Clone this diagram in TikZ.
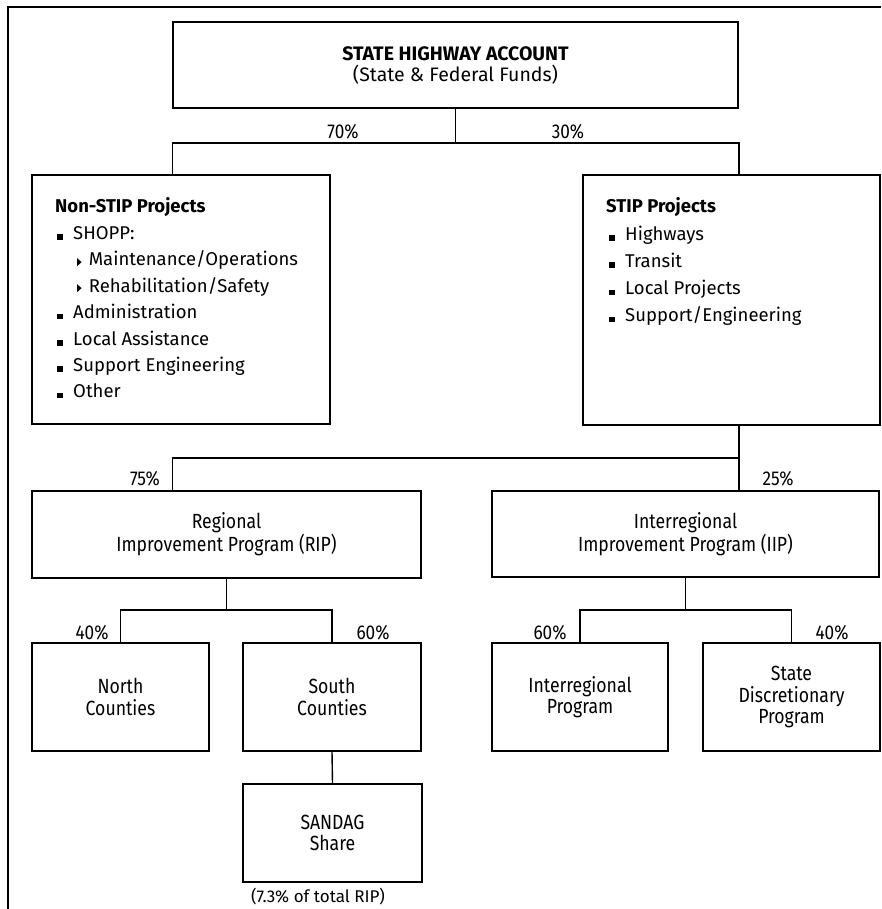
\documentclass[tikz,border=0pt]{standalone}
\usepackage{fontspec}
\setmainfont{Fira Sans}
\newfontfamily\labelfont[FakeStretch=0.86]{Fira Sans}
\newfontfamily\symfont{DejaVu Sans}
\newcommand{\sqbul}{\rule[-0.5pt]{6pt}{5.5pt}\hspace{10pt}}
\newcommand{\tribul}{\raisebox{0.5pt}{\scalebox{0.55}[1]{\symfont\fontsize{11}{11}\selectfont ▶}}\hspace{7pt}}
\tikzset{
  box/.style={draw, line width=1.6pt, inner sep=0pt, align=center,
    font=\labelfont\fontsize{20.5}{21.5}\selectfont},
  link/.style={line width=1.4pt},
  pct/.style={font=\labelfont\fontsize{20}{20}\selectfont},
  item/.style={anchor=base west, inner sep=0pt, font=\fontsize{18.5}{20}\selectfont},
  head/.style={anchor=base west, inner sep=0pt, font=\bfseries\fontsize{18.5}{20}\selectfont},
}

\begin{document}
\begin{tikzpicture}[x=1pt, y=-1pt]
\useasboundingbox (0,0) rectangle (881,909);
\draw[line width=2.6pt] (8,909) -- (8,7) -- (881,7);

% account and its two shares
\node[box, minimum width=565, minimum height=86, font=\fontsize{19.5}{21}\selectfont]
  (sha) at (455.5,65) {\textbf{STATE HIGHWAY ACCOUNT}\\(State \& Federal Funds)};
\node[box, minimum width=298, minimum height=249] (nonstip) at (181,299.5) {};
\node[box, minimum width=297, minimum height=250] (stip) at (731.5,300) {};

\node[head] (nshead) at (55,213) {Non-STIP Projects};
\foreach \txt/\r in {SHOPP:/1, Administration/4, Local Assistance/5, Support Engineering/6, Other/7}
  \node[item] (ns\r) at (57,{213+26.4*\r}) {\sqbul\txt};
\foreach \txt [count=\r from 2] in {Maintenance/Operations, Rehabilitation/Safety}
  \node[item] (ns\r) at (77,{213+26.4*\r}) {\tribul\txt};

\node[head] (sthead) at (606,213) {STIP Projects};
\foreach \txt [count=\r] in {Highways, Transit, Local Projects, Support/Engineering}
  \node[item] (st\r) at (609,{213+27.2*\r}) {\sqbul\txt};

% programs
\node[box, minimum width=389, minimum height=87] (rip) at (226.5,534.5) {Regional\\Improvement Program (RIP)};
\node[box, minimum width=387, minimum height=86] (iip) at (685.5,534) {Interregional\\Improvement Program (IIP)};

\node[box, minimum width=177, minimum height=108] (north) at (120.5,697) {North\\Counties};
\node[box, minimum width=178, minimum height=108] (south) at (332,697) {South\\Counties};
\node[box, minimum width=176, minimum height=108] (interprog) at (580,697) {Interregional\\Program};
\node[box, minimum width=177, minimum height=108] (statedisc) at (791.5,697) {State\\Discretionary\\Program};
\node[box, minimum width=179, minimum height=98] (sandag) at (332.5,833) {SANDAG\\Share};
\node[font=\fontsize{17}{17}\selectfont] (note) at (318,897) {(7.3\% of total RIP)};

% percentages
\node[pct] (p70) at (343,132) {70\%};
\node[pct] (p30) at (568,132) {30\%};
\node[pct] (p75) at (145,479) {75\%};
\node[pct] (p25) at (778,479) {25\%};
\node[pct] (p40a) at (92,633) {40\%};
\node[pct] (p60a) at (373,633) {60\%};
\node[pct] (p60b) at (550,633) {60\%};
\node[pct] (p40b) at (832,633) {40\%};

% connectors
\coordinate (bus1) at (0,143);
\coordinate (bus2) at (0,458);
\coordinate (bus3) at (0,610);
\draw[link] (sha.south) -- (sha.south |- bus1);
\draw[link] (sha.south west |- nonstip.north) |- (sha.south east |- bus1) -- (sha.south east |- stip.north);
\draw[link] (sha.south east |- stip.south) -- (sha.south east |- iip.north);
\draw[link] (sha.south east |- bus2) -| (sha.south west |- rip.north);
\draw[link] (rip.south) -- (rip.south |- bus3);
\draw[link] (north.north) |- (south.north |- bus3) -- (south.north);
\draw[link] (iip.south) -- (iip.south |- bus3);
\draw[link] (interprog.north) |- (statedisc.north |- bus3) -- (statedisc.north);
\draw[link] (south.south) -- (sandag.north);
\end{tikzpicture}
\end{document}
